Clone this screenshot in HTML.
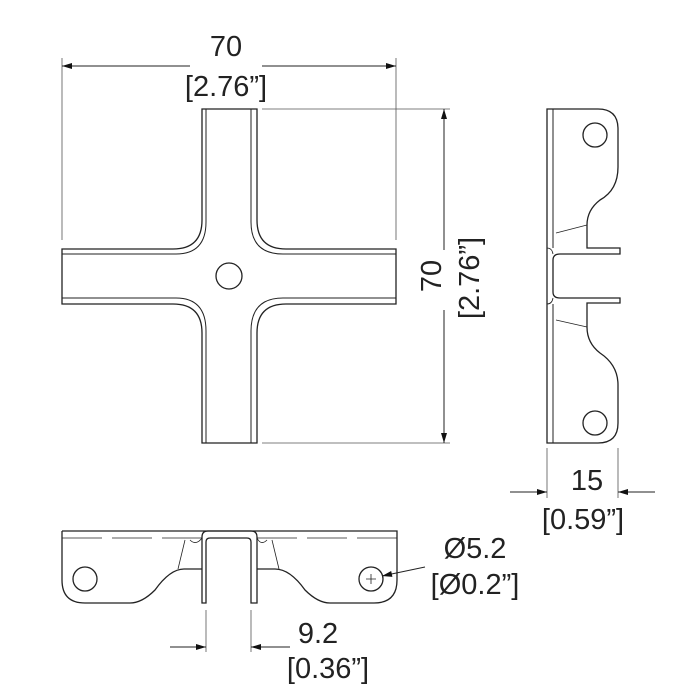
<!DOCTYPE html>
<html><head><style>body{margin:0;background:#fff}svg{display:block}text{font-family:"Liberation Sans",sans-serif;font-size:29px;fill:#222}</style></head><body>
<svg width="700" height="700" viewBox="0 0 700 700" xmlns="http://www.w3.org/2000/svg">
<defs><marker id="a" viewBox="0 0 10 6" refX="10" refY="3" markerWidth="14" markerHeight="6" markerUnits="userSpaceOnUse" orient="auto"><path d="M0,0L10,3L0,6z" fill="#111"/></marker></defs>
<g fill="none" stroke="#222" stroke-width="1.3">
<!-- cross -->
<path d="M202,109H257V220Q257,249 286,249H396V304H286Q257,304 257,333V443H202V333Q202,304 173,304H62V249H173Q202,249 202,220Z"/>
<path d="M206,109V222Q206,254 176,254H62M251,109V222Q251,254 283,254H396M206,443V331Q206,298 176,298H62M251,443V331Q251,298 283,298H396" stroke-width="1"/>
<circle cx="229" cy="276" r="13"/>
<!-- side view -->
<path d="M547,109H598Q618,109 618,129V167Q618,190 600,200Q587,210 587,225V248H620V254H560Q553,254 553,260V292Q553,298 560,298H620V303H587V327Q587,343 600,353Q618,365 618,385V423Q618,443 598,443H547Z"/>
<path d="M553,109V248M553,304V443" stroke-width="1"/>
<path d="M547,248Q552,248 553,254M547,304Q552,304 553,298M556,233L587,225M556,320L587,327" stroke-width="0.8"/>
<circle cx="595" cy="135" r="12"/><circle cx="595" cy="423" r="12"/>
<!-- bottom view -->
<path d="M62,531H397V580Q397,603 374,603H330Q318,603 305,590Q290,569 275,569H257M202,569H184Q170,569 155,590Q142,603 130,603H85Q62,603 62,580V531"/>
<path d="M202,603V537Q202,531 208,531H251Q257,531 257,537V603H251V542Q251,538 247,538H210Q206,538 206,542V603Z"/>
<path d="M62,538H202M257,538H397" stroke-width="0.8" stroke-dasharray="40,10"/>
<path d="M185,540L178,569M272,540L279,569M190,540Q196,546 202,538M267,540Q261,546 257,538" stroke-width="0.8"/>
<circle cx="85" cy="579" r="12"/><circle cx="371" cy="579" r="12"/>
<path d="M366,579h10M371,574v10" stroke-width="0.8"/>
</g>
<g stroke="#555" stroke-width="0.8" fill="none">
<path d="M62,58V240M396,58V240M262,109H450M262,443H450M547,448V498M618,448V498M206,610V652M251,610V652"/>
</g>
<g stroke="#222" stroke-width="1" fill="none">
<line x1="190" y1="66" x2="62" y2="66" marker-end="url(#a)"/>
<line x1="262" y1="66" x2="396" y2="66" marker-end="url(#a)"/>
<line x1="444" y1="250" x2="444" y2="109" marker-end="url(#a)"/>
<line x1="444" y1="310" x2="444" y2="443" marker-end="url(#a)"/>
<line x1="510" y1="492" x2="547" y2="492" marker-end="url(#a)"/>
<line x1="655" y1="492" x2="618" y2="492" marker-end="url(#a)"/>
<line x1="170" y1="647" x2="206" y2="647" marker-end="url(#a)"/>
<line x1="290" y1="647" x2="251" y2="647" marker-end="url(#a)"/>
<line x1="425" y1="567" x2="382" y2="576" marker-end="url(#a)"/>
</g>
<text x="226" y="56" text-anchor="middle">70</text>
<text x="226" y="96" text-anchor="middle">[2.76”]</text>
<text transform="translate(441,276) rotate(-90)" text-anchor="middle">70</text>
<text transform="translate(479,278) rotate(-90)" text-anchor="middle">[2.76”]</text>
<text x="587" y="490" text-anchor="middle">15</text>
<text x="583" y="529" text-anchor="middle">[0.59”]</text>
<text x="475" y="558" text-anchor="middle">Ø5.2</text>
<text x="475" y="594" text-anchor="middle">[Ø0.2”]</text>
<text x="318" y="643" text-anchor="middle">9.2</text>
<text x="328" y="678" text-anchor="middle">[0.36”]</text>
</svg>
</body></html>
